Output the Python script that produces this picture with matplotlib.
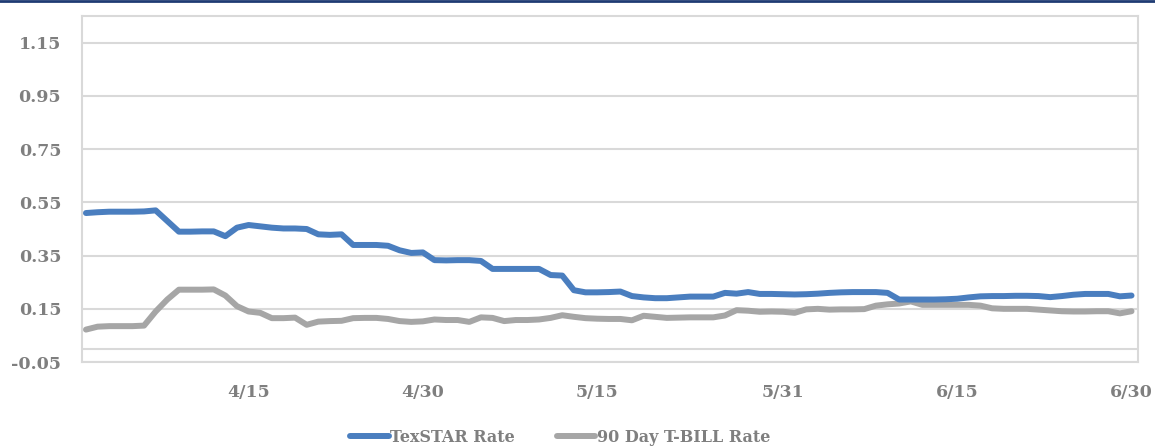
import matplotlib

matplotlib.use("Agg")
import matplotlib.pyplot as plt
import matplotlib.dates as mdates
from matplotlib.lines import Line2D
import numpy as np
import pandas as pd

# daily rates, 4/1 .. 6/30
dates = pd.date_range("2021-04-01", "2021-06-30", freq="D")
texstar = [
    0.510, 0.513, 0.515, 0.515, 0.515, 0.516, 0.520, 0.480, 0.440, 0.440,
    0.441, 0.441, 0.423, 0.455, 0.465, 0.460, 0.455, 0.452, 0.452, 0.450,
    0.430, 0.428, 0.430, 0.390, 0.390, 0.390, 0.387, 0.370, 0.360, 0.362,
    0.333, 0.332, 0.333, 0.333, 0.330, 0.300, 0.300, 0.300, 0.300, 0.300,
    0.277, 0.275, 0.220, 0.212, 0.212, 0.213, 0.215, 0.198, 0.193, 0.190,
    0.190, 0.193, 0.196, 0.196, 0.196, 0.210, 0.207, 0.213, 0.206, 0.206,
    0.205, 0.204, 0.205, 0.207, 0.210, 0.212, 0.213, 0.213, 0.213, 0.210,
    0.185, 0.185, 0.185, 0.185, 0.186, 0.188, 0.193, 0.197, 0.198, 0.198,
    0.199, 0.199, 0.198, 0.194, 0.198, 0.203, 0.206, 0.206, 0.206, 0.197,
    0.200,
]
tbill = [
    0.072, 0.083, 0.085, 0.085, 0.085, 0.087, 0.140, 0.185, 0.222, 0.222,
    0.222, 0.223, 0.200, 0.160, 0.140, 0.135, 0.115, 0.115, 0.117, 0.090,
    0.102, 0.104, 0.105, 0.115, 0.116, 0.116, 0.112, 0.104, 0.101, 0.103,
    0.110, 0.108, 0.108, 0.101, 0.118, 0.116, 0.104, 0.108, 0.108, 0.110,
    0.116, 0.126, 0.120, 0.115, 0.113, 0.112, 0.112, 0.107, 0.124, 0.120,
    0.116, 0.117, 0.118, 0.118, 0.118, 0.125, 0.145, 0.143, 0.139, 0.140,
    0.139, 0.135, 0.148, 0.150, 0.147, 0.148, 0.148, 0.149, 0.162, 0.167,
    0.170, 0.178, 0.165, 0.165, 0.165, 0.165, 0.165, 0.162, 0.152, 0.150,
    0.150, 0.150, 0.147, 0.144, 0.141, 0.140, 0.140, 0.141, 0.141, 0.133,
    0.141,
]
tick_dates = ["2021-04-15", "2021-04-30", "2021-05-15", "2021-05-31", "2021-06-15", "2021-06-30"]
tick_labels = ["4/15", "4/30", "5/15", "5/31", "6/15", "6/30"]
y_ticks = [-0.05, 0.15, 0.35, 0.55, 0.75, 0.95, 1.15]

grey_txt = "#7f7f7f"
grid_c = "#d9d9d9"
plt.rcParams["font.family"] = "DejaVu Serif"
plt.rcParams["font.weight"] = "bold"

fig = plt.figure(figsize=(11.55, 4.47), dpi=100)
ax = fig.add_axes([0.071, 0.19, 0.914, 0.774])

ax.plot(dates, texstar, color="#4a7ebf", lw=4.3, solid_capstyle="round",
        solid_joinstyle="round", label="TexSTAR Rate", zorder=3)
ax.plot(dates, tbill, color="#a6a6a6", lw=4.3, solid_capstyle="round",
        solid_joinstyle="round", label="90 Day T-BILL Rate", zorder=2)

ax.set_ylim(-0.05, 1.25)
ax.set_yticks(y_ticks)
ax.set_yticklabels([f"{v:.2f}" for v in y_ticks])
ax.axhline(0, color=grid_c, lw=1.5, zorder=1)
ax.grid(axis="y", color=grid_c, lw=1.5, zorder=0)

x0 = mdates.date2num(dates[0])
x1 = mdates.date2num(dates[-1])
ax.set_xlim(x0 - 0.34, x1 + 0.53)
ax.set_xticks(mdates.date2num(pd.to_datetime(tick_dates)))
ax.set_xticklabels(tick_labels)

for s in ax.spines.values():
    s.set_color(grid_c)
    s.set_linewidth(1.5)
ax.tick_params(length=0, colors=grey_txt, labelsize=12.5)
ax.tick_params(axis="y", pad=15)
ax.tick_params(axis="x", pad=16)

leg = fig.legend(loc="center", bbox_to_anchor=(0.485, 0.022), ncol=2, frameon=False,
                 handlelength=2.4, handletextpad=0.1, columnspacing=2.6,
                 prop={"size": 11.5, "weight": "bold"})
for t in leg.get_texts():
    t.set_color(grey_txt)

fig.add_artist(Line2D([0, 1], [0.998, 0.998], transform=fig.transFigure,
                      color="#1f3b73", lw=2))

fig.savefig("out.png", dpi=100)
